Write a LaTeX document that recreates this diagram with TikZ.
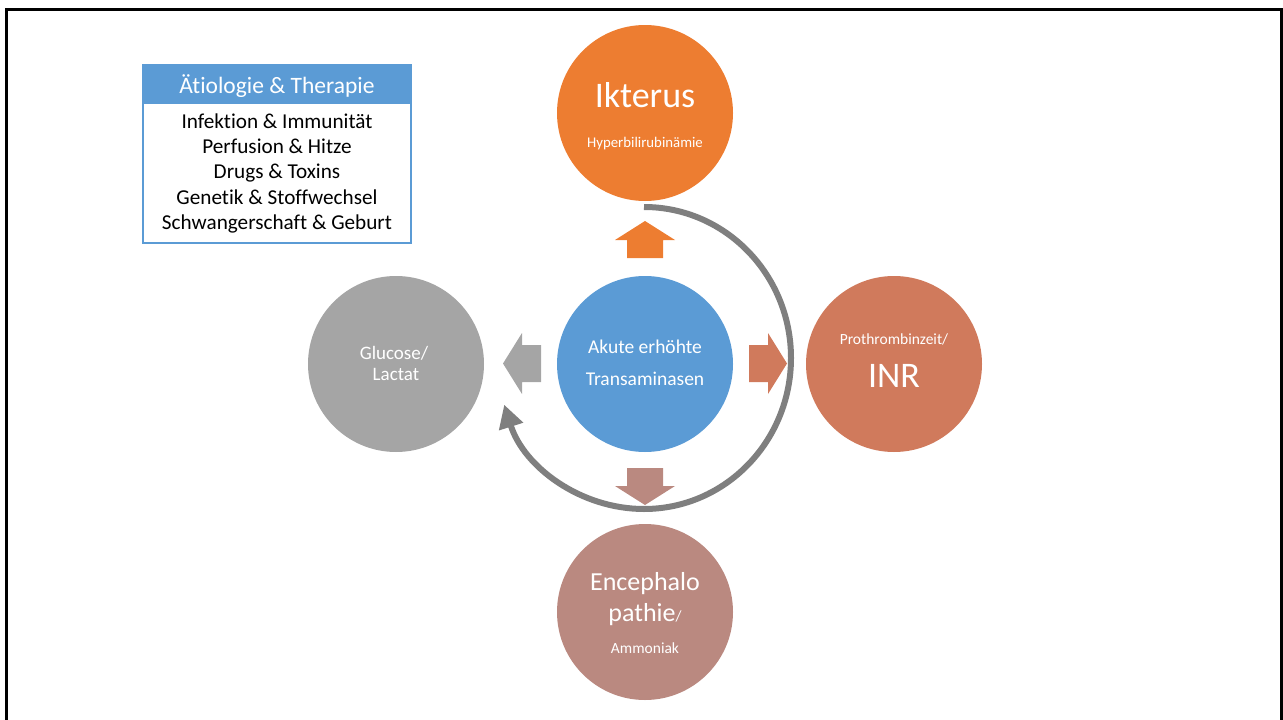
\documentclass[tikz,border=0pt]{standalone}
\usepackage{fontspec}
\setmainfont[Ligatures=NoCommon]{Carlito}
\usetikzlibrary{arrows.meta}
\definecolor{cOrange}{HTML}{ED7D31}
\definecolor{cBlue}{HTML}{5B9BD5}
\definecolor{cGrey}{HTML}{A5A5A5}
\definecolor{cInr}{RGB}{208,122,92}
\definecolor{cEnc}{RGB}{186,137,128}
\definecolor{cArc}{HTML}{7F7F7F}
\tikzset{
  circnode/.style={circle, minimum size=176pt, inner sep=0pt},
  wtxt/.style={text=white, anchor=base, inner sep=0pt},
  btxt/.style={text=black, anchor=base, inner sep=0pt, font=\fontsize{21.2}{24}\selectfont},
  arcarrow/.style={draw=cArc, line width=6pt, -{Triangle[length=23pt,width=24pt]}},
}
\begin{document}
\begin{tikzpicture}[x=1pt,y=-1pt]
\useasboundingbox (0,0) rectangle (1283,720);
% frame
\draw[line width=3pt, black] (6,720) -- (6,9.5) -- (1281.5,9.5) -- (1281.5,720);

% box
\fill[cBlue] (143,65) rectangle (411,104);
\draw[cBlue, line width=1.2pt] (143,65) rectangle (411,243);
\node[wtxt, font=\fontsize{23.5}{27}\selectfont] (hdr) at (277,93) {Ätiologie \& Therapie};
\node[btxt] (l1) at (277,128) {Infektion \& Immunität};
\node[btxt] (l2) at (277,153) {Perfusion \& Hitze};
\node[btxt] (l3) at (277,178.5) {Drugs \& Toxins};
\node[btxt] (l4) at (277,204) {Genetik \& Stoffwechsel};
\node[btxt] (l5) at (277,229.5) {Schwangerschaft \& Geburt};

% circles
\node[circnode, fill=cBlue] (akut) at (645,364) {};
\node[circnode, fill=cOrange] (ikt) at (645,113) {};
\node[circnode, fill=cInr] (inr) at (894,364) {};
\node[circnode, fill=cGrey] (glu) at (396,364) {};
\node[circnode, fill=cEnc] (enc) at (645,612) {};

% texts
\node[wtxt, font=\fontsize{19.5}{22}\selectfont] (t1) at (645,353) {Akute erhöhte};
\node[wtxt, font=\fontsize{19.5}{22}\selectfont] (t2) at (645,385) {Transaminasen};
\node[wtxt, font=\fontsize{36}{40}\selectfont] (t3) at (645,107) {Ikterus};
\node[wtxt, font=\fontsize{14.8}{17}\selectfont] (t4) at (645,147) {Hyperbilirubinämie};
\node[wtxt, font=\fontsize{15.5}{18}\selectfont] (t5) at (894,344) {Prothrombinzeit/};
\node[wtxt, font=\fontsize{36}{40}\selectfont] (t6) at (894,387) {INR};
\node[wtxt, font=\fontsize{19}{22}\selectfont] (t7) at (394,359) {Glucose/};
\node[wtxt, font=\fontsize{19}{22}\selectfont] (t8) at (396,380) {Lactat};
\node[wtxt, font=\fontsize{26}{30}\selectfont] (t9) at (645,590) {Encephalo};
\node[wtxt, font=\fontsize{26}{30}\selectfont] (t10) at (645,621) {pathie{\fontsize{15.5}{18}\selectfont/}};
\node[wtxt, font=\fontsize{15.5}{18}\selectfont] (t11) at (645,653) {Ammoniak};

% block arrows
\fill[cOrange] (627,258) -- (627,240) -- (615,240) -- (645,221) -- (675,240) -- (663,240) -- (663,258) -- cycle;
\fill[cInr] (749,345) -- (768,345) -- (768,333) -- (787,363.5) -- (768,394) -- (768,382) -- (749,382) -- cycle;
\fill[cGrey] (541,345) -- (522,345) -- (522,333) -- (503,363.5) -- (522,394) -- (522,382) -- (541,382) -- cycle;
\fill[cEnc] (627,468) -- (663,468) -- (663,486) -- (675,486) -- (645,505) -- (615,486) -- (627,486) -- cycle;

% circular arrow
\draw[arcarrow] (644,207) arc[start angle=270, end angle=522, x radius=147, y radius=151];
\end{tikzpicture}
\end{document}
